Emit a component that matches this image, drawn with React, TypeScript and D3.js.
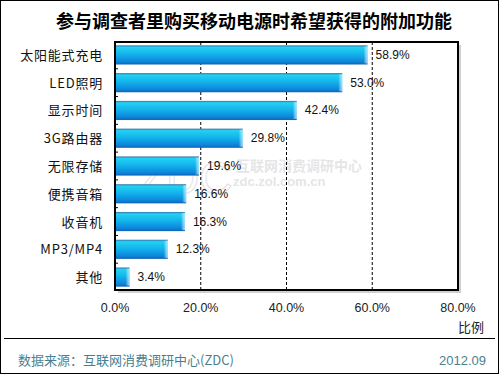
import React from "react";
import * as d3 from "d3";

const categories = ["太阳能式充电", "LED照明", "显示时间", "3G路由器", "无限存储", "便携音箱", "收音机", "MP3/MP4", "其他"];
const values = [58.9, 53.0, 42.4, 29.8, 19.6, 16.6, 16.3, 12.3, 3.4];
const xTicks = [0, 20, 40, 60, 80];
const gridTicks = [20, 40, 60];
const title = "参与调查者里购买移动电源时希望获得的附加功能";
const axisTitle = "比例";
const sourceText = "数据来源：互联网消费调研中心(ZDC)";
const dateText = "2012.09";

export default function App() {
  const W = 500, H = 375;
  const left = 115, right = 458, top = 42, bottom = 290;
  const x = d3.scaleLinear().domain([0, 80]).range([left, right]);
  const y = d3.scaleBand<string>().domain(categories).range([top, bottom]).paddingInner(0.31).paddingOuter(0.12);
  const step = y.step();
  const cjk = "'Noto Sans CJK SC', 'Noto Sans', sans-serif";
  const num = "'Liberation Sans', Arial, sans-serif";
  return (
    <svg width={W} height={H} style={{ position: "absolute", left: 0, top: 0 }} xmlns="http://www.w3.org/2000/svg">
      <defs>
        <linearGradient id="barg" x1="0" y1="0" x2="0" y2="1">
          <stop offset="0" stopColor="#3b6fa8" />
          <stop offset="0.1" stopColor="#22d2f2" />
          <stop offset="0.45" stopColor="#14b4ec" />
          <stop offset="0.85" stopColor="#0b86dc" />
          <stop offset="1" stopColor="#1462b0" />
        </linearGradient>
        <linearGradient id="barEnd" x1="0" y1="0" x2="1" y2="0">
          <stop offset="0" stopColor="#ffffff" stopOpacity="0" />
          <stop offset="1" stopColor="#c8f4ff" stopOpacity="0.8" />
        </linearGradient>
      </defs>
      <rect x={0.5} y={0.5} width={W - 2} height={H - 2} fill="#fff" stroke="#000" strokeWidth={1} />
      <text x={254} y={28} textAnchor="middle" fontFamily={cjk} fontWeight="bold" fontSize={18} fill="#000">{title}</text>

      {/* shadow */}
      <rect x={left + 3} y={top + 3} width={right - left} height={bottom - top} fill="#d0d0d0" />
      <rect x={left} y={top} width={right - left} height={bottom - top} fill="#fff" />

      {/* watermark */}
      <g opacity={0.3}>
        <text x={138} y={194} fontFamily={num} fontSize={46} fill="none" stroke="#aaa" strokeWidth={1.2}>ZDC</text>
        <text x={236} y={171} fontFamily={cjk} fontSize={14} fontWeight="bold" fill="#aaa">互联网消费调研中心</text>
        <text x={233} y={186} fontFamily={num} fontSize={13} fontWeight="bold" fill="#aaa">zdc.zol.com.cn</text>
      </g>

      {gridTicks.map((t) => (
        <line key={t} x1={x(t)} x2={x(t)} y1={top} y2={bottom} stroke="#000" strokeWidth={1} strokeDasharray="3,2" />
      ))}

      {categories.map((c, i) => {
        const by = y(c)!;
        const bh = y.bandwidth();
        const bw = x(values[i]) - x(0);
        return (
          <g key={c}>
            <rect x={x(0)} y={by} width={bw} height={bh} fill="url(#barg)" />
            <rect x={x(0) + bw - 4} y={by + 1} width={4} height={bh - 2} fill="url(#barEnd)" />
            <text x={x(values[i]) + 8} y={by + bh / 2 + 4} fontFamily={num} fontSize={12} fill="#111">{values[i].toFixed(1)}%</text>
            <text x={103} y={by + bh / 2 + 5} textAnchor="end" fontFamily={cjk} fontSize={13} letterSpacing={0.8} fill="#111">{c}</text>
          </g>
        );
      })}

      {categories.slice(1).map((c) => {
        const ty = y(c)! - (step - y.bandwidth()) / 2;
        return <line key={c} x1={left} x2={left + 3} y1={ty} y2={ty} stroke="#000" strokeWidth={1} />;
      })}

      <rect x={left} y={top} width={right - left} height={bottom - top} fill="none" stroke="#000" strokeWidth={2} />

      {xTicks.map((t) => (
        <text key={t} x={x(t)} y={312} textAnchor="middle" fontFamily={num} fontSize={12.5} fill="#222">{t.toFixed(1)}%</text>
      ))}
      <text x={484} y={332} textAnchor="end" fontFamily={cjk} fontSize={13} fill="#222">{axisTitle}</text>

      <line x1={4} x2={495} y1={338.5} y2={338.5} stroke="#000" strokeWidth={1} />
      <text x={18} y={365} fontFamily={cjk} fontSize={13} fill="#4a7f8f">{sourceText}</text>
      <text x={486} y={365} textAnchor="end" fontFamily={num} fontSize={13} fill="#4a7f8f">{dateText}</text>
    </svg>
  );
}
